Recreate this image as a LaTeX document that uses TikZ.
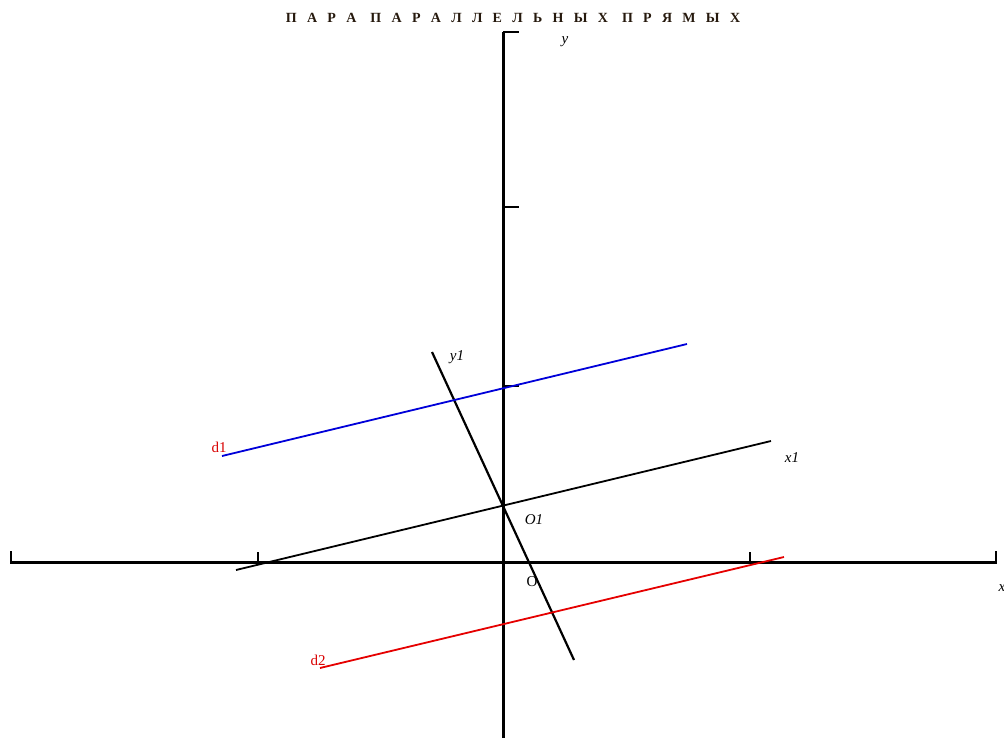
\documentclass[tikz,border=0pt]{standalone}
\usepackage{fontspec}
\setmainfont{Liberation Serif}
\newcommand{\lsp}{\hspace{10.3pt}}
\newcommand{\wsp}{\hspace{14pt}}
\begin{document}
\begin{tikzpicture}[x=1pt,y=-1pt,
  axis/.style={line width=3pt,black},
  tick/.style={line width=1.6pt,black},
  ln/.style={line width=1.8pt},
  lbl/.style={inner sep=0pt,font=\fontsize{15}{15}\selectfont\itshape},
  dlbl/.style={inner sep=0pt,text=red!85!black,font=\fontsize{15}{15}\selectfont}]
\useasboundingbox (0,0) rectangle (1004,737);
% axes
\coordinate (ytop) at (503,32);
\coordinate (ybot) at (503,745);
\coordinate (xl) at (10,562);
\coordinate (xr) at (997,562);
\draw[axis] (ytop) -- (ybot);
\draw[axis] (xl) -- (xr);
% ticks
\draw[tick] (503,32) -- (519,32);
\draw[tick] (503,207) -- (519,207);
\draw[tick] (503,386) -- (519,386);
\draw[tick] (11,563) -- (11,551);
\draw[tick] (258,563) -- (258,552);
\draw[tick] (750,563) -- (750,552);
\draw[tick] (996,563) -- (996,551);
% new system
\coordinate (x1a) at (236,570);
\coordinate (x1b) at (771,441);
\coordinate (y1a) at (432,352);
\coordinate (y1b) at (574,660);
\draw[ln,black] (x1a) -- (x1b);
\draw[ln,black,line width=2.2pt] (y1a) -- (y1b);
% parallel lines
\coordinate (d1a) at (222,456);
\coordinate (d1b) at (687,344);
\coordinate (d2a) at (320,668);
\coordinate (d2b) at (784,557);
\draw[ln,blue!85!black] (d1a) -- (d1b);
\draw[ln,red!90!black] (d2a) -- (d2b);
% labels
\node[font=\fontsize{14}{14}\selectfont\bfseries,text=black!80!brown,inner sep=0pt] (title) at (513,18) {П\lsp А\lsp Р\lsp А\wsp П\lsp А\lsp Р\lsp А\lsp Л\lsp Л\lsp Е\lsp Л\lsp Ь\lsp Н\lsp Ы\lsp Х\wsp П\lsp Р\lsp Я\lsp М\lsp Ы\lsp Х};
\node[lbl] (ylab) at (565,42) {y};
\node[lbl] (xlab) at (1002,588) {x};
\node[lbl] (y1lab) at (457,357) {y1};
\node[lbl] (x1lab) at (792,458) {x1};
\node[lbl] (o1lab) at (534,520) {O1};
\node[inner sep=0pt,font=\fontsize{15}{15}\selectfont] (olab) at (532,582) {O};
\node[dlbl] (d1lab) at (219,447) {d1};
\node[dlbl] (d2lab) at (318,660) {d2};
\end{tikzpicture}
\end{document}
